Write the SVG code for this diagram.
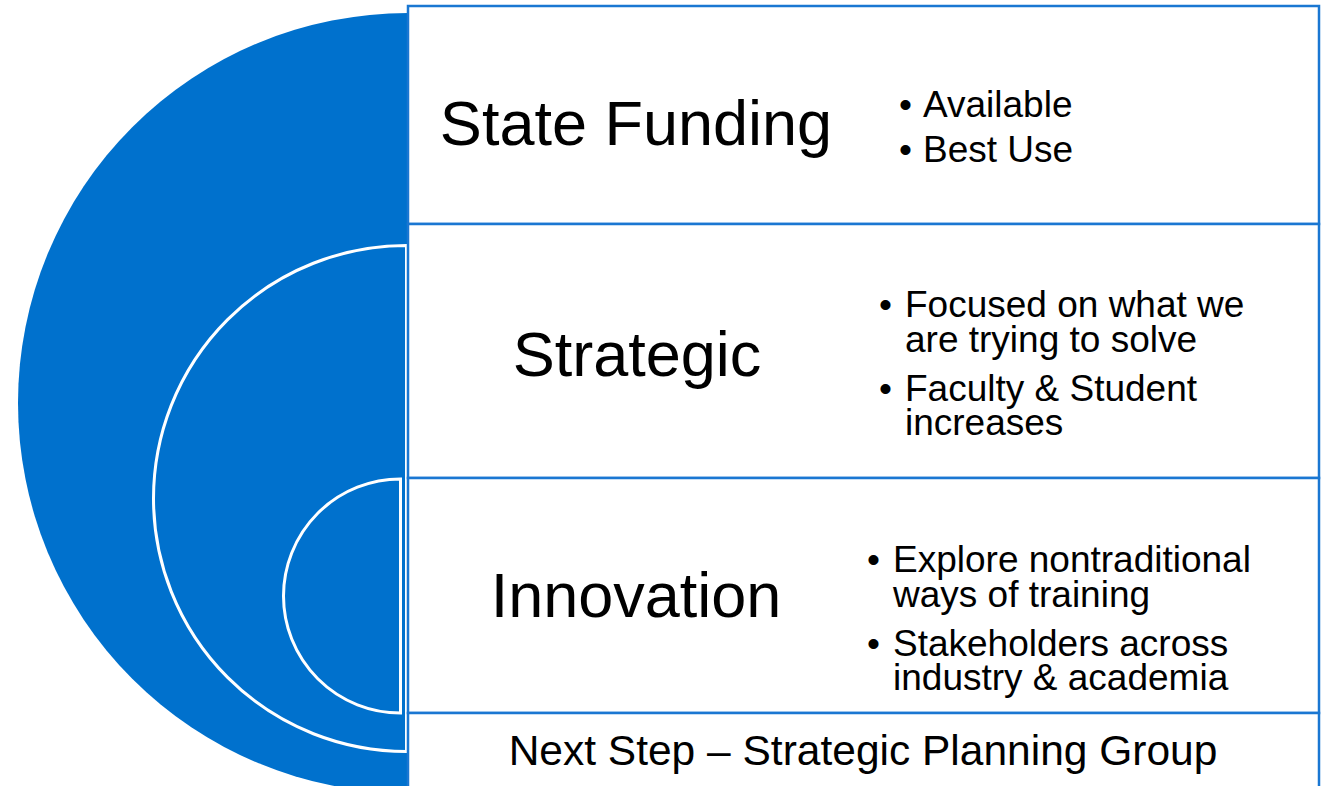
<svg xmlns="http://www.w3.org/2000/svg" width="1326" height="786" viewBox="0 0 1326 786">
  <style>
    .arc { fill: #0071CD; }
    .ring { fill: #0071CD; stroke: #FFFFFF; stroke-width: 3; }
    .box { fill: #FFFFFF; stroke: #1A77D2; stroke-width: 2.5; }
    .title { font-family: "Liberation Sans", Arial, sans-serif; font-size: 63px; fill: #000000; text-anchor: middle; }
    .bul { font-family: "Liberation Sans", Arial, sans-serif; font-size: 37px; fill: #000000; }
    .foot { font-family: "Liberation Sans", Arial, sans-serif; font-size: 42.5px; fill: #000000; text-anchor: middle; }
  </style>
  <rect x="0" y="0" width="1326" height="786" fill="#FFFFFF"/>

  <g id="arcs">
    <path id="outer-arc" class="arc" d="M408,13 A390,390 0 0 0 408,793 Z"/>
    <path id="middle-arc" class="ring" d="M406.5,245.5 A253,253 0 0 0 406.5,751.5 Z"/>
    <path id="inner-arc" class="ring" stroke-width="2.5" d="M400.5,479 A117,117 0 0 0 400.5,713 Z"/>
  </g>

  <g id="node-state-funding">
    <rect class="box" x="408" y="6" width="911" height="218"/>
    <text class="title" x="636" y="145">State Funding</text>
    <text class="bul" x="899" y="117">•</text>
    <text class="bul" x="923" y="117">Available</text>
    <text class="bul" x="899" y="162">•</text>
    <text class="bul" x="923" y="162">Best Use</text>
  </g>

  <g id="node-strategic">
    <rect class="box" x="408" y="224" width="911" height="254"/>
    <text class="title" x="637" y="376">Strategic</text>
    <text class="bul" x="879" y="317">•</text>
    <text class="bul" x="905" y="317">Focused on what we</text>
    <text class="bul" x="905" y="352">are trying to solve</text>
    <text class="bul" x="879" y="401">•</text>
    <text class="bul" x="905" y="401">Faculty &amp; Student</text>
    <text class="bul" x="905" y="435">increases</text>
  </g>

  <g id="node-innovation">
    <rect class="box" x="408" y="478" width="911" height="235"/>
    <text class="title" x="636" y="617">Innovation</text>
    <text class="bul" x="867" y="572">•</text>
    <text class="bul" x="893" y="572">Explore nontraditional</text>
    <text class="bul" x="893" y="607">ways of training</text>
    <text class="bul" x="867" y="656">•</text>
    <text class="bul" x="893" y="656">Stakeholders across</text>
    <text class="bul" x="893" y="690">industry &amp; academia</text>
  </g>

  <g id="node-next-step">
    <rect class="box" x="408" y="713" width="911" height="90"/>
    <text class="foot" x="863" y="765">Next Step – Strategic Planning Group</text>
  </g>

  <g id="connectors"></g>
</svg>
